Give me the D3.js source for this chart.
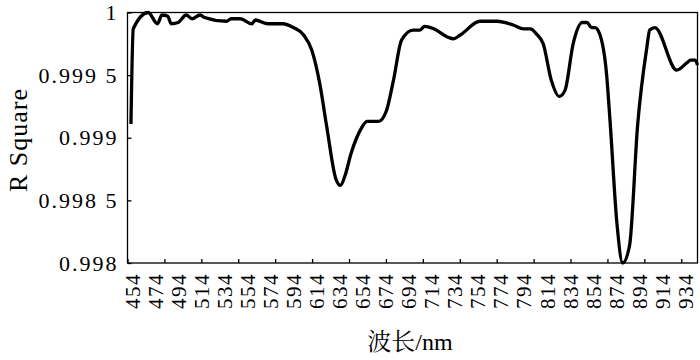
<!DOCTYPE html>
<html>
<head>
<meta charset="utf-8">
<script src="https://cdn.jsdelivr.net/npm/d3@7"></script>
<style>
  html, body { margin: 0; padding: 0; background: #fff; }
  svg { display: block; }
</style>
</head>
<body>
<svg id="chart" width="700" height="360"></svg>
<script>
// ---- data ----
const wavelengths = [453, 455, 468, 476, 480, 485, 488, 494, 501, 506, 513, 517, 536, 540, 548, 558, 561, 572, 585, 594,
  603, 610, 617, 623, 631, 635, 639, 644, 649, 654, 658, 668, 675, 681, 688, 698, 704, 708, 716, 729, 733, 739,
  756, 771, 785, 794, 800, 805, 811, 818, 825, 830, 837, 845, 849, 853, 856, 860, 866, 869, 875, 880, 886, 893,
  901, 903.5, 908, 927, 936, 939, 943, 945];
const rSquare = [0.99911, 0.99987, 1.00000, 0.99991, 0.99998, 0.99997, 0.99991, 0.99992, 0.99998, 0.99995, 0.99998,
  0.99996, 0.99993, 0.99995, 0.99995, 0.99991, 0.99994, 0.99991, 0.99991, 0.99988,
  0.99982, 0.99970, 0.99943, 0.99909, 0.99867, 0.99862, 0.99870, 0.99887, 0.99900, 0.99909, 0.99913, 0.99913,
  0.99922, 0.99946, 0.99978, 0.99986, 0.99986, 0.99989, 0.99987, 0.99980, 0.99979, 0.99982,
  0.99993, 0.99993, 0.99990, 0.99987, 0.99987, 0.99983, 0.99975, 0.99946, 0.99933, 0.99938, 0.99975, 0.99992,
  0.99992, 0.99988, 0.99988, 0.99983, 0.99951, 0.99914, 0.99832, 0.99800, 0.99814, 0.99910,
  0.99972, 0.99986, 0.99988, 0.99954, 0.99960, 0.99962, 0.99962, 0.99958];
const xLabelValues = d3.range(454, 935, 20);          // 454 ... 934
const xTickMarkValues = d3.range(450, 946, 32.06);     // minor marks along the axis
const yTickValues = [0.998, 0.9985, 0.999, 0.9995, 1];
const yTickLabels = ["0.998", "0.998 5", "0.999", "0.999 5", "1"];
const xTitle = "波长/nm";
const yTitle = "R Square";

const SERIF = '"Liberation Serif", Tinos, "Times New Roman", Times, "DejaVu Serif", serif';
const SERIF_CJK = '"Liberation Serif", Tinos, "Times New Roman", "Noto Serif CJK SC", "Noto Sans CJK SC", serif';

// ---- layout ----
const svg = d3.select("#chart");
const m = { left: 127.5, top: 12.5, right: 2.5, bottom: 97 };
const W = 700 - m.left - m.right, H = 360 - m.top - m.bottom;
const g = svg.append("g").attr("transform", `translate(${m.left},${m.top})`);

const x = d3.scaleLinear().domain([450, 945]).range([0, W]);
const y = d3.scaleLinear().domain([0.998, 1]).range([H, 0]);

// y axis
const yAxis = d3.axisLeft(y).tickValues(yTickValues)
  .tickFormat((d, i) => yTickLabels[i]).tickSize(-4).tickPadding(9);
const yg = g.append("g").call(yAxis).attr("font-family", SERIF).attr("font-size", 22);
yg.select(".domain").remove();
yg.selectAll("line").attr("stroke", "#000").attr("stroke-width", 1.3);
yg.selectAll("text").style("font-family", SERIF).style("font-size", "22px")
  .style("letter-spacing", "2px").attr("fill", "#000");

// x tick marks
const xMarks = d3.axisBottom(x).tickValues(xTickMarkValues).tickSize(-4).tickFormat("");
const xm = g.append("g").attr("transform", `translate(0,${H})`).call(xMarks);
xm.select(".domain").remove();
xm.selectAll("line").attr("stroke", "#000").attr("stroke-width", 1.3);

// x labels
const xLab = d3.axisBottom(x).tickValues(xLabelValues).tickSize(0).tickFormat(d3.format("d"));
const xl = g.append("g").attr("transform", `translate(0,${H})`).call(xLab)
  .attr("font-family", SERIF).attr("font-size", 21);
xl.select(".domain").remove();
xl.selectAll("text")
  .attr("transform", "rotate(-90)")
  .attr("x", -10).attr("y", 0).attr("dy", "0.35em")
  .attr("text-anchor", "end").attr("fill", "#000")
  .style("font-family", SERIF).style("font-size", "21px").style("letter-spacing", "1.5px");

// frame
g.append("rect").attr("x", 0).attr("y", 0).attr("width", W).attr("height", H)
  .attr("fill", "none").attr("stroke", "#000").attr("stroke-width", 1.3);

// line
const pts = wavelengths.map((w, i) => [w, rSquare[i]]);
g.append("path").datum(pts)
  .attr("fill", "none").attr("stroke", "#000").attr("stroke-width", 3.3)
  .attr("stroke-linejoin", "round")
  .attr("d", d3.line().x(d => x(d[0])).y(d => y(d[1])).curve(d3.curveMonotoneX));

// titles
svg.append("text").attr("x", 410).attr("y", 350).attr("text-anchor", "middle")
  .style("font-family", SERIF_CJK).style("font-size", "24px").text(xTitle);
svg.append("text").attr("transform", "translate(27,140) rotate(-90)").attr("text-anchor", "middle")
  .style("font-family", SERIF).style("font-size", "26px").style("letter-spacing", "1px").text(yTitle);
</script>
</body>
</html>
